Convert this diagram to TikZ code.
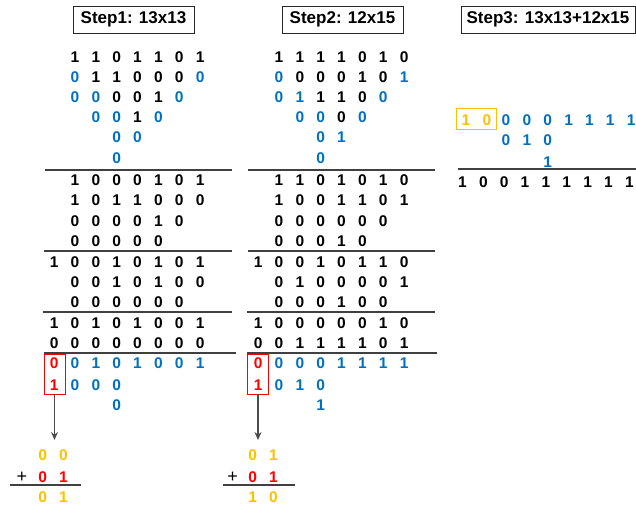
\documentclass[tikz,border=0pt]{standalone}
\usepackage{fontspec}
\setmainfont{Liberation Sans}
\usetikzlibrary{arrows.meta}
\definecolor{K}{HTML}{000000}
\definecolor{B}{HTML}{0070C0}
\definecolor{R}{HTML}{FF0000}
\definecolor{O}{HTML}{FFC000}
\tikzset{
  dig/.style={inner sep=0pt, font=\fontsize{15.5}{18}\selectfont\bfseries},
  plussign/.style={inner sep=0pt, font=\fontsize{18}{20}\selectfont},
  rule/.style={draw=black!75, line width=1.2pt},
  title/.style={draw=black!85, line width=1pt, minimum height=27pt, inner sep=0pt, font=\fontsize{17}{20}\selectfont\bfseries},
  redbox/.style={draw=R, line width=0.9pt, minimum width=21pt, minimum height=40pt, inner sep=0pt},
  orbox/.style={draw=O, line width=0.9pt, minimum width=40pt, minimum height=21pt, inner sep=0pt},
  arr/.style={draw=black!70, line width=1.3pt, -{Stealth[length=8pt,width=7pt,fill=black]}}
}
\newcommand\drow[4]{\foreach [count=\k] \c/\d in {#4}{\node[dig,text=\c] (#1-\k) at ({#2+(\k-1)*20.85},#3) {\d};}}
\begin{document}
\begin{tikzpicture}[x=1pt,y=-1pt]
\useasboundingbox (0,0) rectangle (636,508);
% titles
\node[title, minimum width=121pt] (t1) at (133.5,19.7) {Step1: 13x13};
\node[title, minimum width=121pt] (t2) at (342.5,19.7) {Step2: 12x15};
\node[title, minimum width=174pt] (t3) at (548,19.7) {Step3: 13x13+12x15};
% step 1
\drow{a1}{75}{57}{K/1,K/1,K/0,K/1,K/1,K/0,K/1}
\drow{a2}{75}{77}{B/0,K/1,K/1,K/0,K/0,K/0,B/0}
\drow{a3}{75}{97.5}{B/0,B/0,K/0,K/0,K/1,B/0}
\drow{a4}{95.85}{117.5}{B/0,B/0,K/1,B/0}
\drow{a5}{116.7}{137.5}{B/0,B/0}
\drow{a6}{116.7}{158}{B/0}
\draw[rule] (45,170) -- (232,170);
\drow{a7}{75}{180.5}{K/1,K/0,K/0,K/0,K/1,K/0,K/1}
\drow{a8}{75}{200.5}{K/1,K/0,K/1,K/1,K/0,K/0,K/0}
\drow{a9}{75}{221}{K/0,K/0,K/0,K/0,K/1,K/0}
\drow{a10}{75}{241}{K/0,K/0,K/0,K/0,K/0}
\draw[rule] (44,251) -- (232,251);
\drow{a11}{54.15}{262}{K/1,K/0,K/0,K/1,K/0,K/1,K/0,K/1}
\drow{a12}{75}{282}{K/0,K/0,K/1,K/0,K/1,K/0,K/0}
\drow{a13}{75}{302.5}{K/0,K/0,K/0,K/0,K/0,K/0}
\draw[rule] (43,312) -- (232,312);
\drow{a14}{54.15}{323}{K/1,K/0,K/1,K/0,K/1,K/0,K/0,K/1}
\drow{a15}{54.15}{343}{K/0,K/0,K/0,K/0,K/0,K/0,K/0,K/0}
\draw[rule] (44,353) -- (236,353);
\drow{a16}{54.15}{363.5}{R/0,B/0,B/1,B/0,B/1,B/0,B/0,B/1}
\drow{a17}{54.15}{385}{R/1,B/0,B/0,B/0}
\drow{a18}{116.7}{405}{B/0}
\node[redbox] (rb1) at (54.5,374) {};
% step 2
\drow{b1}{279}{57}{K/1,K/1,K/1,K/1,K/0,K/1,K/0}
\drow{b2}{279}{77}{B/0,K/0,K/0,K/0,K/1,K/0,B/1}
\drow{b3}{279}{97.5}{B/0,B/1,K/1,K/1,K/0,B/0}
\drow{b4}{299.85}{117.5}{B/0,B/0,K/0,B/0}
\drow{b5}{320.7}{137.5}{B/0,B/1}
\drow{b6}{320.7}{158}{B/0}
\draw[rule] (248,170) -- (435,170);
\drow{b7}{279}{180.5}{K/1,K/1,K/0,K/1,K/0,K/1,K/0}
\drow{b8}{279}{200.5}{K/1,K/0,K/0,K/1,K/1,K/0,K/1}
\drow{b9}{279}{221}{K/0,K/0,K/0,K/0,K/0,K/0}
\drow{b10}{279}{241}{K/0,K/0,K/0,K/1,K/0}
\draw[rule] (248,251) -- (435,251);
\drow{b11}{258.15}{262}{K/1,K/0,K/0,K/1,K/0,K/1,K/1,K/0}
\drow{b12}{279}{282}{K/0,K/1,K/0,K/0,K/0,K/0,K/1}
\drow{b13}{279}{302.5}{K/0,K/0,K/0,K/1,K/0,K/0}
\draw[rule] (247,312) -- (435,312);
\drow{b14}{258.15}{323}{K/1,K/0,K/0,K/0,K/0,K/0,K/1,K/0}
\drow{b15}{258.15}{343}{K/0,K/0,K/1,K/1,K/1,K/1,K/0,K/1}
\draw[rule] (247,353) -- (437,353);
\drow{b16}{258.15}{363.5}{R/0,B/0,B/0,B/0,B/1,B/1,B/1,B/1}
\drow{b17}{258.15}{385}{R/1,B/0,B/1,B/0}
\drow{b18}{320.7}{405}{B/1}
\node[redbox] (rb2) at (258,374) {};
% step 3
\drow{c1}{466}{120}{O/1,O/0}
\node[orbox] (ob) at (476,118.7) {};
\drow{c2}{506}{120}{B/0,B/0,B/0,B/1,B/1,B/1,B/1}
\drow{c3}{506}{140}{B/0,B/1,B/0}
\drow{c4}{547.7}{161.7}{B/1}
\draw[rule] (458,169) -- (636,169);
\drow{c5}{462.5}{181.7}{K/1,K/0,K/0,K/1,K/1,K/1,K/1,K/1,K/1}
% additions
\coordinate (tip1) at (54.5,440);
\draw[arr] (rb1.south) -- (tip1);
\drow{d1}{42.7}{455}{O/0,O/0}
\node[plussign] (p1) at (22,477) {+};
\drow{d2}{42.7}{477}{R/0,R/1}
\draw[rule] (10,485) -- (81,485);
\drow{d3}{42.7}{497}{O/0,O/1}
\coordinate (tip2) at (258,440);
\draw[arr] (rb2.south) -- (tip2);
\drow{e1}{252.7}{455}{O/0,O/1}
\node[plussign] (p2) at (232.7,477) {+};
\drow{e2}{252.7}{477}{R/0,R/1}
\draw[rule] (222.7,485) -- (295,485);
\drow{e3}{252.7}{497}{O/1,O/0}
\end{tikzpicture}
\end{document}
